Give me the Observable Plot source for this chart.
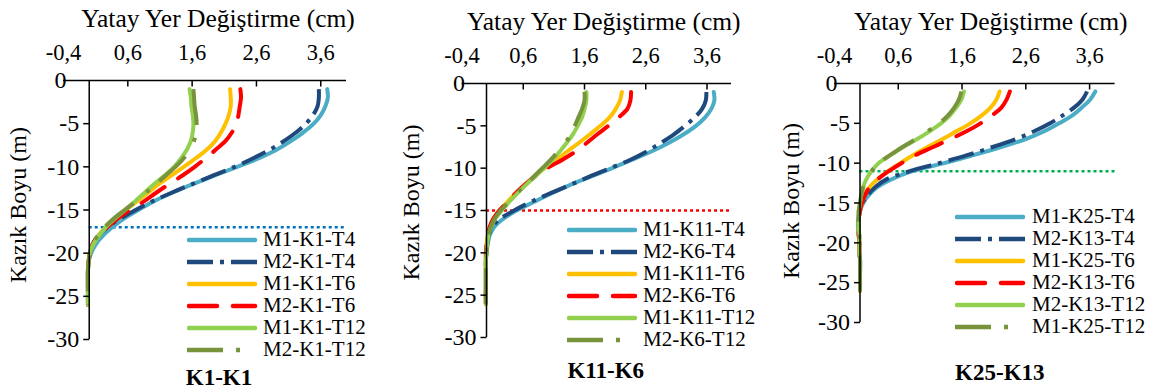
<!DOCTYPE html>
<html>
<head>
<meta charset="utf-8">
<script src="https://cdn.jsdelivr.net/npm/d3@7"></script>
<script src="https://cdn.jsdelivr.net/npm/@observablehq/plot@0.6"></script>
<style>
html, body { margin: 0; padding: 0; background: #fff; }
#root { position: relative; width: 1154px; height: 392px; overflow: hidden; font-family: "Liberation Serif", Tinos, "Times New Roman", "DejaVu Serif", serif; }
.panel { position: absolute; top: 0; }
.panel text { font-family: "Liberation Serif", Tinos, "Times New Roman", "DejaVu Serif", serif; }
.legrow { position: absolute; height: 22px; line-height: 22px; font-size: 21px; color: #000; white-space: nowrap; font-family: "Liberation Serif", Tinos, "Times New Roman", "DejaVu Serif", serif; }
.legrow svg { position: absolute; left: 0; top: 0; }
.legrow span { position: absolute; top: -1px; }
</style>
</head>
<body>
<div id="root"></div>
<script>
// ---------- data ----------
const depths = [-1,-2,-3,-4,-5,-6,-7,-8,-9,-10,-11,-12,-13,-14,-15,-16,-17,-18,-19,-20,-21,-22,-24,-26];

const xTicks = [-0.4, 0.6, 1.6, 2.6, 3.6];
const xDomain = [-0.4, 4.0];
const yTicks = [0, -5, -10, -15, -20, -25, -30];
const yDomain = [-30, 0];

const xTitle = "Yatay Yer Değiştirme (cm)";
const yTitle = "Kazık Boyu (m)";
const panelLabels = ["K1-K1", "K11-K6", "K25-K13"];
const cutDepths = [-17, -15, -11];

const names1 = ["M1-K1-T4", "M2-K1-T4", "M1-K1-T6", "M2-K1-T6", "M1-K1-T12", "M2-K1-T12"];
const names2 = ["M1-K11-T4", "M2-K6-T4", "M1-K11-T6", "M2-K6-T6", "M1-K11-T12", "M2-K6-T12"];
const names3 = ["M1-K25-T4", "M2-K13-T4", "M1-K25-T6", "M2-K13-T6", "M2-K13-T12", "M1-K25-T12"];

// Panel K1-K1
const p1_T4_M1  = [3.70,3.71,3.67,3.60,3.49,3.33,3.14,2.92,2.64,2.30,1.95,1.61,1.29,1.00,0.76,0.54,0.36,0.21,0.10,0.03,-0.01,-0.02,-0.02,-0.02];
const p1_T4_M2  = [3.57,3.57,3.55,3.48,3.37,3.22,3.03,2.81,2.55,2.26,1.93,1.60,1.28,0.98,0.72,0.48,0.28,0.14,0.05,0.01,-0.01,-0.02,-0.02,-0.02];
const p1_T6_M1  = [2.19,2.20,2.20,2.17,2.12,2.05,1.96,1.83,1.66,1.47,1.28,1.08,0.91,0.74,0.57,0.41,0.26,0.14,0.06,0.01,-0.01,-0.02,-0.02,-0.02];
const p1_T6_M2  = [2.35,2.36,2.34,2.32,2.29,2.22,2.12,1.97,1.81,1.64,1.45,1.24,1.04,0.85,0.63,0.44,0.28,0.14,0.05,0.01,-0.01,-0.02,-0.02,-0.02];
const p1_T12_M1 = [1.56,1.58,1.59,1.61,1.62,1.61,1.58,1.52,1.43,1.32,1.17,1.01,0.86,0.71,0.56,0.40,0.26,0.15,0.06,0.01,-0.01,-0.02,-0.02,-0.02];
const p1_T12_M2 = [1.62,1.63,1.64,1.66,1.67,1.66,1.63,1.56,1.47,1.34,1.19,1.04,0.88,0.73,0.55,0.38,0.24,0.13,0.05,0.01,-0.01,-0.02,-0.02,-0.02];

// Panel K11-K6
const p2_T4_M1  = [3.71,3.72,3.67,3.57,3.42,3.22,2.98,2.70,2.38,2.05,1.70,1.36,1.05,0.77,0.49,0.27,0.12,0.05,0.02,0.00,-0.01,-0.01,-0.01,-0.01];
const p2_T4_M2  = [3.59,3.58,3.52,3.40,3.24,3.06,2.85,2.62,2.35,2.02,1.68,1.36,1.03,0.72,0.45,0.22,0.09,0.03,0.01,0.00,-0.01,-0.01,-0.01,-0.01];
const p2_T6_M1  = [2.21,2.18,2.11,2.01,1.86,1.69,1.51,1.32,1.15,0.95,0.78,0.62,0.47,0.34,0.21,0.11,0.05,0.02,0.00,-0.01,-0.01,-0.01,-0.01,-0.01];
const p2_T6_M2  = [2.36,2.35,2.30,2.16,1.99,1.81,1.64,1.46,1.24,0.99,0.79,0.62,0.47,0.34,0.21,0.11,0.05,0.02,0.00,-0.01,-0.01,-0.01,-0.01,-0.01];
const p2_T12_M1 = [1.63,1.63,1.60,1.56,1.49,1.41,1.31,1.20,1.08,0.94,0.79,0.64,0.50,0.37,0.25,0.14,0.07,0.03,0.01,0.00,-0.01,-0.01,-0.01,-0.01];
const p2_T12_M2 = [1.60,1.60,1.56,1.50,1.44,1.37,1.29,1.17,1.05,0.91,0.77,0.63,0.49,0.36,0.23,0.13,0.07,0.03,0.01,0.00,-0.01,-0.01,-0.01,-0.01];

// Panel K25-K13
const p3_T4_M1  = [3.69,3.61,3.48,3.33,3.12,2.89,2.59,2.20,1.77,1.32,0.82,0.50,0.27,0.14,0.05,0.00,-0.03,-0.03,-0.02,-0.01,-0.01,0.00,0.00,0.00];
const p3_T4_M2  = [3.56,3.49,3.36,3.18,2.98,2.73,2.43,2.07,1.68,1.24,0.78,0.42,0.24,0.12,0.04,0.00,-0.02,-0.02,-0.02,-0.01,-0.01,0.00,0.00,0.00];
const p3_T6_M1  = [2.19,2.14,2.05,1.91,1.73,1.51,1.29,1.05,0.83,0.63,0.44,0.28,0.15,0.07,0.03,0.00,-0.02,-0.02,-0.02,-0.01,-0.01,0.00,0.00,0.00];
const p3_T6_M2  = [2.35,2.30,2.22,2.07,1.89,1.67,1.41,1.14,0.87,0.65,0.45,0.28,0.15,0.08,0.03,0.00,-0.02,-0.02,-0.02,-0.01,-0.01,0.00,0.00,0.00];
const p3_T12_a  = [1.63,1.59,1.51,1.41,1.27,1.09,0.89,0.67,0.48,0.29,0.18,0.10,0.05,0.02,0.00,-0.02,-0.02,-0.02,-0.01,-0.01,-0.01,0.00,0.00,0.00];
const p3_T12_b  = [1.59,1.55,1.48,1.38,1.24,1.06,0.87,0.66,0.47,0.29,0.18,0.10,0.05,0.02,0.00,-0.02,-0.02,-0.02,-0.01,-0.01,-0.01,0.00,0.00,0.00];

// ---------- styles / layout ----------
const seriesStyles = [
  {stroke: "#4BACC6", dash: null,          cap: "round"},
  {stroke: "#1F497D", dash: "26,7,4,7",    cap: "butt"},
  {stroke: "#FFC000", dash: null,          cap: "round"},
  {stroke: "#FF0000", dash: "28,16",       cap: "round"},
  {stroke: "#92D050", dash: null,          cap: "round"},
  {stroke: "#77933C", dash: "36,13,4,17",  cap: "butt"}
];
const cutColors = ["#0070C0", "#FF0000", "#00B050"];
const serif = "'Liberation Serif', Tinos, 'Times New Roman', 'DejaVu Serif', serif";

const panels = [
  {left: 0,   width: 385, mL: 63,   mR: 39,   mT: 80, mB: 53, titleDx: 13, yLabDx: -45.5, yLabDy: -5, labDx: 14, labDy: 38,
   names: names1, values: [p1_T4_M1, p1_T4_M2, p1_T6_M1, p1_T6_M2, p1_T12_M1, p1_T12_M2],
   leg: {x: 187, tx: 263, rows: [240, 262, 284, 306, 328, 350]}},
  {left: 385, width: 385, mL: 76.5, mR: 39,   mT: 83, mB: 55, titleDx: 7,  yLabDx: -51,   yLabDy: -8, labDx: 9,  labDy: 33,
   names: names2, values: [p2_T4_M1, p2_T4_M2, p2_T6_M1, p2_T6_M2, p2_T12_M1, p2_T12_M2],
   leg: {x: 567, tx: 643, rows: [230, 252, 274, 296, 318, 340]}},
  {left: 770, width: 384, mL: 64,   mR: 39.4, mT: 83, mB: 70, titleDx: 16, yLabDx: -43.5, yLabDy: -2, labDx: 25, labDy: 50,
   names: names3, values: [p3_T4_M1, p3_T4_M2, p3_T6_M1, p3_T6_M2, p3_T12_a, p3_T12_b],
   leg: {x: 955, tx: 1032, rows: [217, 239, 261, 283, 305, 327]}}
];

const fmt = d => d.toFixed(1).replace(".", ",");
const tickDown = {draw(ctx) { ctx.moveTo(0, 0); ctx.lineTo(0, 6); }};
const tickLeft = {draw(ctx) { ctx.moveTo(0, 0); ctx.lineTo(-6, 0); }};

const root = document.getElementById("root");

panels.forEach((p, pi) => {
  const lineMarks = p.values.map((vals, si) => {
    const st = seriesStyles[si];
    const rows = depths.map((d, i) => ({depth: d, x: vals[i]}));
    return Plot.line(rows, {
      x: "x", y: "depth", stroke: st.stroke, strokeWidth: 4,
      strokeDasharray: st.dash || undefined, strokeLinecap: st.cap,
      strokeLinejoin: "round", curve: "catmull-rom"
    });
  });

  const chart = Plot.plot({
    width: p.width, height: 392,
    marginLeft: p.mL, marginRight: p.mR, marginTop: p.mT, marginBottom: p.mB,
    x: {domain: xDomain, axis: null},
    y: {domain: yDomain, axis: null},
    style: {fontFamily: serif, background: "transparent", color: "#000", overflow: "visible"},
    marks: [
      Plot.ruleY([cutDepths[pi]], {x1: 0, x2: xDomain[1], stroke: cutColors[pi], strokeWidth: 2.5, strokeDasharray: "3,3"}),
      ...lineMarks,
      Plot.ruleY([0], {x1: xDomain[0], x2: xDomain[1], stroke: "#000", strokeWidth: 1.5}),
      Plot.ruleX([0], {y1: yDomain[0], y2: yDomain[1], stroke: "#000", strokeWidth: 1.5}),
      Plot.dot(xTicks.slice(1), {x: d => d, y: 0, symbol: tickDown, fill: "none", stroke: "#000", strokeWidth: 1.5}),
      Plot.dot(yTicks.slice(1), {x: 0, y: d => d, symbol: tickLeft, fill: "none", stroke: "#000", strokeWidth: 1.5}),
      Plot.text(xTicks, {x: d => d, y: 0, text: fmt, dy: -28, fontSize: 22.5, fill: "#000", fontFamily: serif}),
      Plot.text(yTicks.slice(1), {x: 0, y: d => d, text: d => String(d), textAnchor: "end", dx: -10, fontSize: 24, fill: "#000", fontFamily: serif}),
      Plot.text([yTicks[0]], {x: xDomain[0], y: d => d, text: d => String(d), textAnchor: "end", dx: 3, fontSize: 24, fill: "#000", fontFamily: serif}),
      Plot.text([xTitle], {frameAnchor: "top", lineAnchor: "middle", dx: p.titleDx, dy: -62, fontSize: 25.5, fill: "#000", fontFamily: serif}),
      Plot.text([yTitle], {frameAnchor: "left", textAnchor: "middle", lineAnchor: "middle", dx: p.yLabDx, dy: p.yLabDy, rotate: -90, fontSize: 24, fill: "#000", fontFamily: serif}),
      Plot.text([panelLabels[pi]], {frameAnchor: "bottom", lineAnchor: "middle", dx: p.labDx, dy: p.labDy, fontSize: 23, fontWeight: "bold", fill: "#000", fontFamily: serif})
    ]
  });
  chart.classList.add("panel");
  chart.style.left = p.left + "px";
  root.appendChild(chart);

  // legend
  p.names.forEach((name, si) => {
    const st = seriesStyles[si];
    const row = document.createElement("div");
    row.className = "legrow";
    row.style.left = p.leg.x + "px";
    row.style.top = (p.leg.rows[si] - 11) + "px";
    row.style.width = "200px";
    const svg = d3.create("svg").attr("width", 72).attr("height", 22);
    svg.append("line")
      .attr("x1", st.cap === "round" ? 2 : 0).attr("x2", st.cap === "round" ? 68 : 70)
      .attr("y1", 11).attr("y2", 11)
      .attr("stroke", st.stroke).attr("stroke-width", 4.5)
      .attr("stroke-linecap", st.cap)
      .attr("stroke-dasharray", st.dash);
    row.appendChild(svg.node());
    const span = document.createElement("span");
    span.textContent = name;
    span.style.left = (p.leg.tx - p.leg.x) + "px";
    row.appendChild(span);
    root.appendChild(row);
  });
});
</script>
</body>
</html>
